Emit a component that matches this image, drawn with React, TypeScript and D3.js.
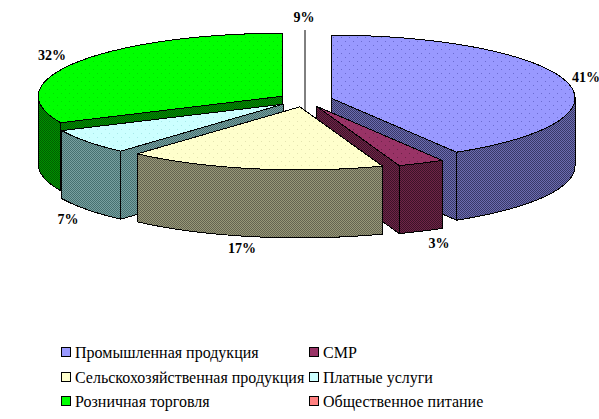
import React from "react";
import * as d3 from "d3";

const categories = ["Промышленная продукция", "СМР", "Сельскохозяйственная продукция", "Платные услуги", "Розничная торговля", "Общественное питание"];
const values = [41.4, 3.1, 17.1, 6.5, 31.9, 0];
const pctLabels = ["41%", "3%", "17%", "7%", "32%", "9%"];
const topColors = ["#9999ff", "#993366", "#ffffcc", "#ccffff", "#00ff00", "#ff8080"];
const wallA = ["#6c6cb0", "#702448", "#989878", "#78a0a0", "#009000", "#804040"];
const wallB = ["#383868", "#3c1428", "#646450", "#467070", "#006000", "#402020"];
const dotColors = ["#6b6bd0", "#6d2148", "#e4e4b0", "#a8e8e8", "#00e000", "#e06060"];
const paintOrder = [5, 4, 0, 3, 1, 2];
const labelPos = [[586, 77], [439, 243], [242, 248], [68, 219], [52, 55], [304, 17]];

const W = 599, H = 419;
const cx = 305, cy = 100, rx = 244, ry = 63, depth = 68, explode = 27;
const deg = Math.PI / 180;
const yScale = ry / rx;

const pieData = d3.pie<number>().sort(null).startAngle(0).endAngle(2 * Math.PI)(values);
const lineGen = d3.line<[number, number]>().curve(d3.curveLinear);

function apex(p: any): [number, number] {
  const m = (p.startAngle + p.endAngle) / 2;
  return [cx + explode * Math.sin(m), cy - explode * yScale * Math.cos(m)];
}
function rim(a: [number, number], t: number, dz = 0): [number, number] {
  return [a[0] + rx * Math.sin(t), a[1] - ry * Math.cos(t) + dz];
}
function face(a: [number, number], t: number): string {
  return lineGen([a, rim(a, t), rim(a, t, depth), [a[0], a[1] + depth]])! + "Z";
}
function wall(a: [number, number], t0: number, t1: number): string | null {
  const s = Math.max(t0, 90 * deg), e = Math.min(t1, 270 * deg);
  if (e <= s) return null;
  const ts = d3.range(0, 41).map((i) => s + ((e - s) * i) / 40);
  const top = ts.map((t) => rim(a, t));
  const bottom = ts.slice().reverse().map((t) => rim(a, t, depth));
  return lineGen([...top, ...bottom])! + "Z";
}

function Patterns() {
  return (
    <defs>
      {topColors.map((c, i) => (
        <pattern key={"t" + i} id={"top" + i} width={8} height={8} patternUnits="userSpaceOnUse">
          <rect width={8} height={8} fill={c} />
          <rect x={1} y={1} width={1} height={1} fill={dotColors[i]} />
          <rect x={5} y={5} width={1} height={1} fill={dotColors[i]} />
        </pattern>
      ))}
      {wallA.map((c, i) => (
        <pattern key={"w" + i} id={"wall" + i} width={2} height={2} patternUnits="userSpaceOnUse">
          <rect width={2} height={2} fill={c} />
          <rect x={0} y={0} width={1} height={1} fill={wallB[i]} />
          <rect x={1} y={1} width={1} height={1} fill={wallB[i]} />
        </pattern>
      ))}
    </defs>
  );
}

function Slice({ i }: { i: number }) {
  const p = pieData[i];
  const a = apex(p);
  const stroke = { stroke: "#000", strokeWidth: 1, strokeLinejoin: "round" as const };
  if (p.endAngle - p.startAngle < 1e-6) {
    return <path d={lineGen([rim(a, p.startAngle), [a[0], a[1] + depth]])!} fill="none" {...stroke} />;
  }
  const startNormal = p.startAngle - Math.PI / 2;
  const endNormal = p.endAngle + Math.PI / 2;
  const w = wall(a, p.startAngle, p.endAngle);
  return (
    <g shapeRendering="crispEdges">
      {Math.cos(startNormal) < -1e-6 && <path d={face(a, p.startAngle)} fill={`url(#wall${i})`} {...stroke} />}
      {Math.cos(endNormal) < -1e-6 && <path d={face(a, p.endAngle)} fill={`url(#wall${i})`} {...stroke} />}
      {w && <path d={w} fill={`url(#wall${i})`} {...stroke} />}
      <path
        d={lineGen([
          a,
          ...d3.range(0, 61).map((k) => rim(a, p.startAngle + ((p.endAngle - p.startAngle) * k) / 60)),
        ])! + "Z"}
        fill={`url(#top${i})`}
        {...stroke}
      />
    </g>
  );
}

export default function App() {
  const colX = [61, 309];
  const rowY = [352, 377, 401];
  return (
    <svg width={W} height={H} style={{ position: "absolute", left: 0, top: 0, background: "#fff" }}>
      <Patterns />
      {paintOrder.map((i) => <Slice key={i} i={i} />)}
      {pctLabels.map((t, i) => (
        <text key={t} x={labelPos[i][0]} y={labelPos[i][1]} dy="0.35em" textAnchor="middle"
          fontFamily="'Liberation Serif', serif" fontWeight="bold" fontSize={14} fill="#000">{t}</text>
      ))}
      {categories.map((c, i) => {
        const x = colX[i % 2], y = rowY[Math.floor(i / 2)];
        return (
          <g key={c}>
            <rect x={x + 0.5} y={y - 4.5} width={9} height={9} fill={topColors[i]} stroke="#000" shapeRendering="crispEdges" />
            <text x={x + 14} y={y} dy="0.35em" fontFamily="'Liberation Serif', serif" fontSize={16} fill="#000">{c}</text>
          </g>
        );
      })}
    </svg>
  );
}
